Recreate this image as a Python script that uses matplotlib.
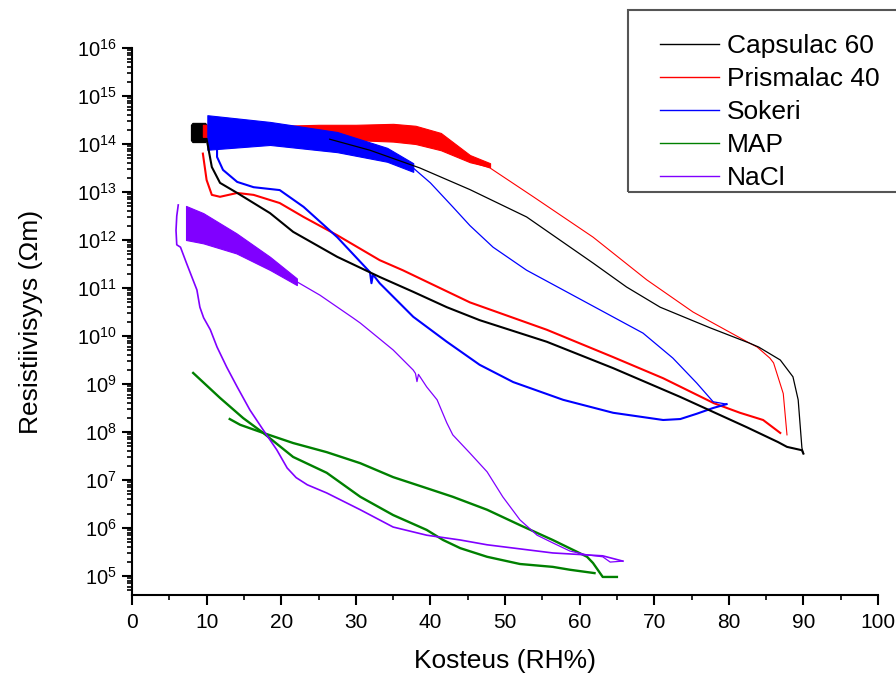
import numpy as np
import matplotlib
matplotlib.use('Agg')
import matplotlib.pyplot as plt
from matplotlib.patches import Rectangle
from matplotlib.lines import Line2D
from matplotlib.ticker import FixedLocator, MultipleLocator, NullFormatter, LogFormatterSciNotation

plt.rcParams['font.family'] = ['Liberation Sans', 'DejaVu Sans']
plt.rcParams['mathtext.fontset'] = 'custom'
plt.rcParams['mathtext.rm'] = 'Liberation Sans'
plt.rcParams['mathtext.it'] = 'Liberation Sans:italic'

# resistivity values are kept as log10 exponents, RH in %
# Capsulac 60
cap_band_rh = [7.9, 8.1, 9.8, 10.0]
cap_band_lo = [14.08, 14.04, 14.04, 14.08]
cap_band_hi = [14.40, 14.44, 14.44, 14.40]
cap_up_rh = [10.0, 15, 20, 26.5, 31.9, 38.6, 45.3, 52.9, 61.8, 66.3, 70.8, 77.5,
             82.8, 84.0, 86.9, 88.6, 89.3, 89.8, 90.0]
cap_up_lg = [14.15, 14.15, 14.15, 14.1, 13.87, 13.5, 13.05, 12.48, 11.52, 11.02, 10.6, 10.17,
             9.85, 9.77, 9.5, 9.15, 8.67, 7.67, 7.55]
cap_dn_rh = [90.0, 89.8, 87.8, 86.6, 82.4, 73.5, 64.5, 55.6, 46.6, 42.2, 37.7, 33.2,
             27.5, 21.6, 18.5, 14.1, 11.8, 10.7, 10.2, 10.0]
cap_dn_lg = [7.55, 7.62, 7.69, 7.79, 8.1, 8.73, 9.33, 9.88, 10.33, 10.6, 10.92, 11.23,
             11.65, 12.17, 12.56, 12.98, 13.19, 13.52, 13.94, 14.1]

# Prismalac 40
pri_band_rh = [9.5, 15, 20, 25, 30, 35, 38, 41.4, 45.3, 48]
pri_band_hi = [14.4, 14.4, 14.38, 14.4, 14.4, 14.42, 14.38, 14.23, 13.77, 13.6]
pri_band_lo = [14.15, 14.15, 14.12, 14.1, 14.08, 14.05, 14.0, 13.87, 13.62, 13.52]
pri_up_rh = [46, 48, 53.8, 61.8, 69, 75.2, 82.8, 83.8, 85.5, 86, 87.3, 87.8]
pri_up_lg = [13.6, 13.5, 12.9, 12.06, 11.17, 10.5, 9.85, 9.77, 9.54, 9.44, 8.8, 7.94]
pri_dn_rh = [86.9, 84.6, 81.5, 78.0, 71.2, 64.5, 55.6, 45.3, 36.3, 33.2, 27.5, 23,
             19.8, 16.3, 14.1, 11.8, 10.7, 10.0, 9.5]
pri_dn_lg = [7.98, 8.25, 8.4, 8.6, 9.12, 9.56, 10.13, 10.7, 11.37, 11.58, 12.1, 12.48,
             12.77, 12.94, 12.98, 12.9, 12.94, 13.25, 13.8]

# Sokeri
sok_band_rh = [10.1, 18.5, 27.5, 34.2, 37.7]
sok_band_hi = [14.6, 14.46, 14.25, 13.92, 13.6]
sok_band_lo = [13.88, 13.98, 13.83, 13.63, 13.42]
sok_up_rh = [37.7, 40, 43, 45.3, 48.4, 52.9, 61, 68.5, 72.5, 75.7, 77.9, 79.7]
sok_up_lg = [13.5, 13.19, 12.69, 12.3, 11.85, 11.37, 10.69, 10.06, 9.54, 9.02, 8.63, 8.58]
sok_dn_rh = [79.7, 77.9, 75.7, 73.5, 71.2, 64.5, 57.8, 51.1, 46.6, 42.2, 37.7, 33.2,
             32.3, 32.1, 31.9, 27.5, 23, 19.8, 16.3, 14.1, 12.2, 11.4, 11.4]
sok_dn_lg = [8.58, 8.5, 8.38, 8.27, 8.25, 8.4, 8.67, 9.04, 9.4, 9.88, 10.4, 11.1,
             11.28, 11.1, 11.33, 12.06, 12.69, 13.04, 13.1, 13.21, 13.46, 13.73, 13.94]

# MAP
map_a_rh = [8.2, 11.8, 14.9, 17.6, 21.6, 26.1, 30.6, 35, 39.5, 41.7, 44, 47.6,
            52, 56.4, 58.7, 62]
map_a_lg = [9.23, 8.71, 8.29, 7.98, 7.48, 7.15, 6.65, 6.27, 5.96, 5.75, 5.58, 5.4,
            5.25, 5.19, 5.13, 5.06]
map_b_rh = [13.1, 14.5, 17.6, 21.6, 26.1, 30.6, 35, 39.5, 43, 47.6, 52, 56.4,
            59.7, 61, 61.8, 63.1, 65]
map_b_lg = [8.27, 8.15, 7.98, 7.77, 7.58, 7.35, 7.06, 6.83, 6.65, 6.38, 6.06, 5.75,
            5.5, 5.4, 5.27, 4.98, 4.98]

# NaCl
nacl_band_rh = [7.24, 9.56, 14.0, 18.5, 22.1]
nacl_band_hi = [12.71, 12.56, 12.14, 11.65, 11.2]
nacl_band_lo = [12.0, 11.93, 11.72, 11.375, 11.06]
nacl_up_rh = [22.1, 25.2, 29.6, 30.6, 35, 37.7, 38.0, 38.2, 38.4, 39.5, 40.9, 42.2,
              43, 45.3, 47.6, 49.7, 52, 54.3, 56.4, 58.7, 61, 63.1, 64.1, 65.8]
nacl_up_lg = [11.13, 10.85, 10.38, 10.27, 9.71, 9.29, 9.22, 9.05, 9.2, 8.94, 8.67, 8.19,
              7.94, 7.56, 7.17, 6.65, 6.17, 5.85, 5.69, 5.52, 5.44, 5.4, 5.29, 5.31]
nacl_dn_rh = [65.8, 63.1, 56.4, 47.6, 44, 39.5, 35, 30.6, 26.1, 23.5, 22.0, 20.8, 19.4,
              17.6, 15.8, 14.1, 12.7, 11.4, 10.5, 9.6, 9.1, 8.7, 7.3, 6.5, 6.0,
              5.9, 6.0, 6.2]
nacl_dn_lg = [5.31, 5.42, 5.48, 5.65, 5.75, 5.85, 6.02, 6.38, 6.73, 6.9, 7.05, 7.25, 7.63,
              8.04, 8.46, 8.94, 9.35, 9.77, 10.13, 10.38, 10.6, 10.96, 11.52, 11.85, 11.9,
              12.2, 12.5, 12.73]

names = ['Capsulac 60', 'Prismalac 40', 'Sokeri', 'MAP', 'NaCl']
colors = ['#000000', '#ff0000', '#0000ff', '#008000', '#8000ff']
y_decades = list(range(5, 17))

W, H = 896, 678
fig = plt.figure(figsize=(W / 100, H / 100), dpi=100)
ax = fig.add_axes([132 / W, 1 - 595 / H, (878 - 132) / W, (595 - 48) / H])


def p10(v):
    return 10.0 ** np.asarray(v, dtype=float)


def band(x, lo, hi, c, z):
    ax.fill_between(x, p10(lo), p10(hi), color=c, lw=0.8, zorder=z)


def line(x, lg, c, lw, z):
    ax.plot(x, p10(lg), color=c, lw=lw, zorder=z, solid_joinstyle='round')


cK, cR, cB, cG, cP = colors
band(cap_band_rh, cap_band_lo, cap_band_hi, cK, 2)
band(pri_band_rh, pri_band_lo, pri_band_hi, cR, 2.5)
band(sok_band_rh, sok_band_lo, sok_band_hi, cB, 3)
# early part of the black upper branch runs under the blue band
line(cap_up_rh[:5], cap_up_lg[:5], cK, 1.2, 2.2)
line(cap_up_rh[3:], cap_up_lg[3:], cK, 0.9, 4)
line(cap_dn_rh, cap_dn_lg, cK, 1.5, 4)
line(pri_up_rh, pri_up_lg, cR, 0.8, 3.5)
line(pri_dn_rh, pri_dn_lg, cR, 1.5, 3.5)
line(sok_up_rh, sok_up_lg, cB, 0.9, 3.6)
line(sok_dn_rh, sok_dn_lg, cB, 1.5, 3.6)
line(map_a_rh, map_a_lg, cG, 1.7, 4)
line(map_b_rh, map_b_lg, cG, 1.7, 4)
band(nacl_band_rh, nacl_band_lo, nacl_band_hi, cP, 4.5)
line(nacl_up_rh, nacl_up_lg, cP, 0.9, 4.5)
line(nacl_dn_rh, nacl_dn_lg, cP, 1.2, 4.5)

ax.set_yscale('log')
ax.set_xlim(0, 100)
ax.set_ylim(10 ** 4.604, 1e16)
ax.xaxis.set_major_locator(MultipleLocator(10))
ax.xaxis.set_minor_locator(MultipleLocator(5))
# only decades inside the view, so no stray labels below the axis
ax.yaxis.set_major_locator(FixedLocator(p10(y_decades)))
ax.yaxis.set_major_formatter(LogFormatterSciNotation())
minor = [m * 10.0 ** d for d in [4] + y_decades[:-1] for m in range(2, 10)]
ax.yaxis.set_minor_locator(FixedLocator([v for v in minor if v >= 10 ** 4.604]))
ax.yaxis.set_minor_formatter(NullFormatter())

for s in ['top', 'right']:
    ax.spines[s].set_visible(False)
for s in ['left', 'bottom']:
    ax.spines[s].set_linewidth(1.5)
ax.tick_params(which='major', direction='out', length=7, width=1.5, labelsize=14.5, pad=4)
ax.tick_params(axis='x', which='major', labelsize=15, pad=6)
ax.tick_params(which='minor', direction='out', length=3.5, width=1.2)

ax.set_xlabel('Kosteus (RH%)', fontsize=19, labelpad=12)
ax.set_ylabel('Resistiivisyys (Ωm)', fontsize=19, labelpad=24)

# legend with a hand-drawn frame
fig.patches.append(Rectangle((628 / W, 1 - 192 / H), 300 / W, 182 / H,
                             transform=fig.transFigure, fill=False,
                             edgecolor='#555555', lw=1.5, zorder=5))
handles = [Line2D([], [], color=c, lw=1.0) for c in colors]
fig.legend(handles, names, loc='upper left', bbox_to_anchor=(660 / W, 1 - 34 / H),
           bbox_transform=fig.transFigure, frameon=False, borderpad=0,
           borderaxespad=0, fontsize=19, handlelength=2.25, handletextpad=0.3,
           labelspacing=0.34)

fig.savefig('out.png', dpi=100)
